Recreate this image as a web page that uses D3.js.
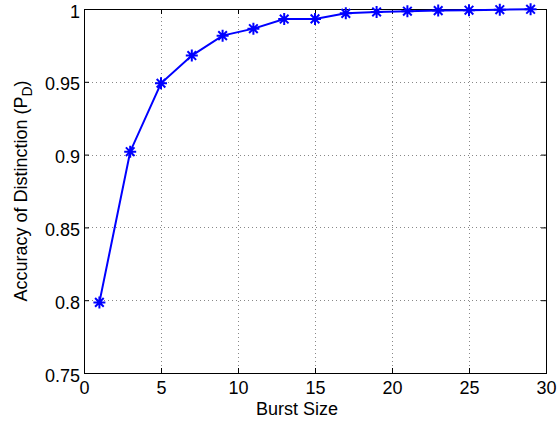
<!DOCTYPE html>
<html>
<head>
<meta charset="utf-8">
<script src="https://cdn.jsdelivr.net/npm/d3@7"></script>
<style>
  body { margin: 0; background: #fff; }
  text { font-family: "Liberation Sans", Arial, sans-serif; fill: #000; }
</style>
</head>
<body>
<svg id="chart" width="560" height="422"></svg>
<script>
// burst size vs accuracy of distinction
const burstSizes = [1, 3, 5, 7, 9, 11, 13, 15, 17, 19, 21, 23, 25, 27, 29];
const accuracy = [0.7985, 0.902, 0.949, 0.968, 0.9817, 0.9865, 0.9931, 0.9932, 0.997, 0.998, 0.9985, 0.9989, 0.9992, 0.9995, 0.9998];
const xTicks = [0, 5, 10, 15, 20, 25, 30];
const yTicks = [0.75, 0.8, 0.85, 0.9, 0.95, 1];

const margin = { left: 84, top: 9, right: 14, bottom: 49 };
const width = 560, height = 422;
const svg = d3.select('#chart');

const x = d3.scaleLinear().domain([0, 30]).range([margin.left, width - margin.right]);
const y = d3.scaleLinear().domain([0.75, 1]).range([height - margin.bottom, margin.top]);

const x0 = x(0), x1 = x(30), y0 = y(0.75), y1 = y(1);

// dotted grid
const grid = svg.append('g').attr('stroke', '#888').attr('stroke-width', 1).attr('stroke-dasharray', '1,3');
grid.selectAll('.gx').data(xTicks.slice(1, -1)).enter().append('line')
  .attr('x1', d => Math.round(x(d)) + 0.5).attr('x2', d => Math.round(x(d)) + 0.5)
  .attr('y1', y1).attr('y2', y0);
grid.selectAll('.gy').data(yTicks.slice(1, -1)).enter().append('line')
  .attr('y1', d => Math.round(y(d)) + 0.5).attr('y2', d => Math.round(y(d)) + 0.5)
  .attr('x1', x0).attr('x2', x1);

// axes with inward ticks
svg.append('g').attr('transform', `translate(0,${y0})`)
  .call(d3.axisBottom(x).tickValues(xTicks).tickSize(-5).tickPadding(10).tickFormat(d3.format('d')))
  .call(g => g.select('.domain').remove())
  .call(g => g.selectAll('text').attr('font-size', 18).attr('dy', '0.6em'));
svg.append('g').attr('transform', `translate(0,${y1})`)
  .call(d3.axisTop(x).tickValues(xTicks).tickSize(-5).tickFormat(''))
  .call(g => g.select('.domain').remove());
svg.append('g').attr('transform', `translate(${x0},0)`)
  .call(d3.axisLeft(y).tickValues(yTicks).tickSize(-5).tickPadding(4).tickFormat(d => d3.format('')(+d.toFixed(2))))
  .call(g => g.select('.domain').remove())
  .call(g => g.selectAll('text').attr('font-size', 18).attr('dy', '0.45em'));
svg.append('g').attr('transform', `translate(${x1},0)`)
  .call(d3.axisRight(y).tickValues(yTicks).tickSize(-5).tickFormat(''))
  .call(g => g.select('.domain').remove());

svg.append('rect')
  .attr('x', Math.round(x0) + 0.5).attr('y', Math.round(y1) + 0.5)
  .attr('width', Math.round(x1 - x0)).attr('height', Math.round(y0 - y1))
  .attr('fill', 'none').attr('stroke', '#000').attr('stroke-width', 1);

// series line
const line = d3.line().x((d, i) => x(burstSizes[i])).y(d => y(d));
svg.append('path').datum(accuracy)
  .attr('d', line).attr('fill', 'none').attr('stroke', '#0000ff').attr('stroke-width', 2);

// asterisk markers
const r = 6, rd = r * 0.72;
const star = `M${-r},0L${r},0M0,${-r}L0,${r}M${-rd},${-rd}L${rd},${rd}M${-rd},${rd}L${rd},${-rd}`;
svg.selectAll('.mark').data(accuracy).enter().append('path')
  .attr('transform', (d, i) => `translate(${x(burstSizes[i])},${y(d)})`)
  .attr('d', star).attr('fill', 'none').attr('stroke', '#0000ff').attr('stroke-width', 2);

// labels
svg.append('text').attr('x', 297).attr('y', 415).attr('text-anchor', 'middle')
  .attr('font-size', 18).text('Burst Size');
const yl = svg.append('text').attr('transform', `translate(27,${(y0 + y1) / 2}) rotate(-90)`)
  .attr('text-anchor', 'middle').attr('font-size', 18);
yl.append('tspan').text('Accuracy of Distinction (P');
yl.append('tspan').attr('dy', 5).attr('font-size', 14).text('D');
yl.append('tspan').attr('dy', -5).text(')');
</script>
</body>
</html>
